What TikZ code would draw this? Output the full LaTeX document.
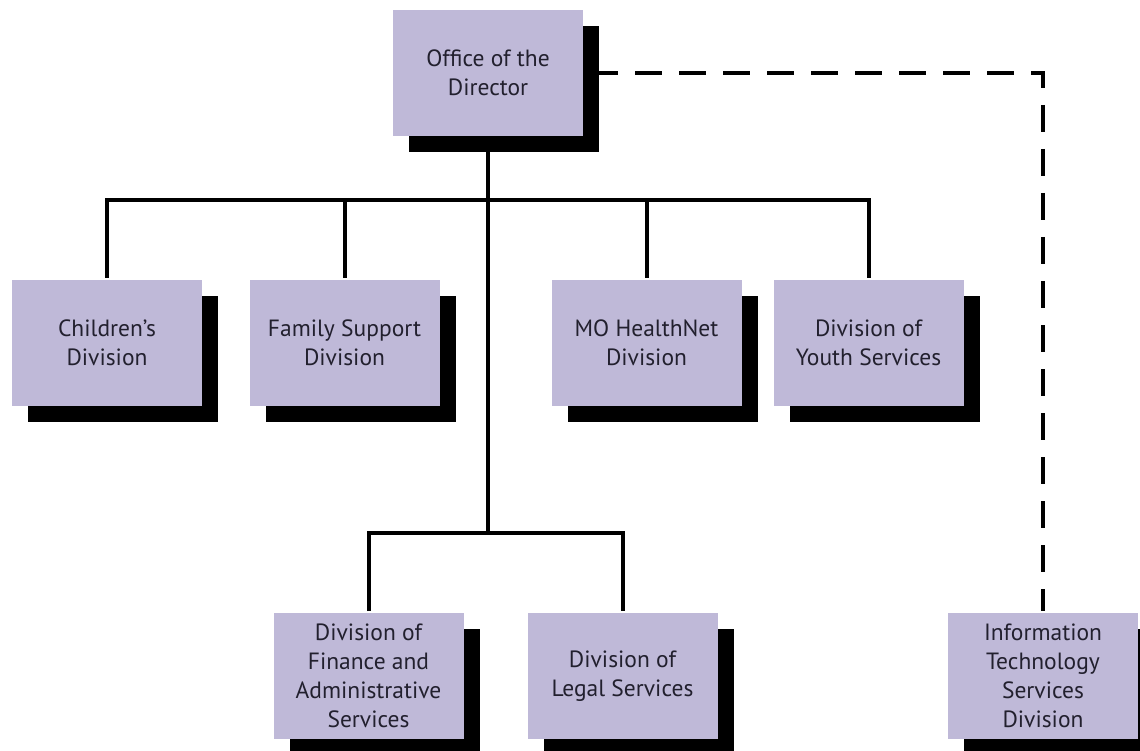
\documentclass[tikz,border=0pt]{standalone}
\usepackage{fontspec}
\setsansfont{PT Sans}
\usepackage{tikz}
\usetikzlibrary{shadows}
\definecolor{boxfill}{RGB}{191,185,216}
\definecolor{boxtext}{RGB}{34,32,46}

\begin{document}
\begin{tikzpicture}[x=1pt,y=-1pt,line width=4pt,
  unit/.style={fill=boxfill,minimum width=190pt,minimum height=126pt,inner sep=0pt,
    align=center,text=boxtext,font=\sffamily\fontsize{23.5}{29}\selectfont,
    drop shadow={shadow xshift=16pt,shadow yshift=-16pt,fill=black,opacity=1}},
  staff/.style={dash pattern=on 27pt off 17pt,dash phase=38pt}]
  \useasboundingbox[fill=white] (0,0) rectangle (1140,751);
  % boxes
  \node[unit] (dir)    at (488,73)   {Office of the\\Director};
  \node[unit] (child)  at (107,343)  {Children's\\Division};
  \node[unit] (family) at (344.5,343) {Family Support\\Division};
  \node[unit] (mo)     at (646.5,343) {MO HealthNet\\Division};
  \node[unit] (youth)  at (868.5,343) {Division of\\Youth Services};
  \node[unit] (fin)    at (368.5,676) {Division of\\Finance and\\Administrative\\Services};
  \node[unit] (legal)  at (622.5,676) {Division of\\Legal Services};
  \node[unit] (it)     at (1043,676)  {Information\\Technology\\Services\\Division};
  % lines
  \coordinate (bus) at (dir.south |- 0,200);
  \coordinate (low) at (dir.south |- 0,533);
  \draw (dir.south) -- (low);
  \draw (child.north) |- (bus) -| (youth.north);
  \foreach \n in {family,mo} \draw (\n.north) -- (\n.north |- bus);
  \draw (fin.north) |- (low) -| (legal.north);
  \draw[staff] (dir.east) -| (it.north);
\end{tikzpicture}
\end{document}
